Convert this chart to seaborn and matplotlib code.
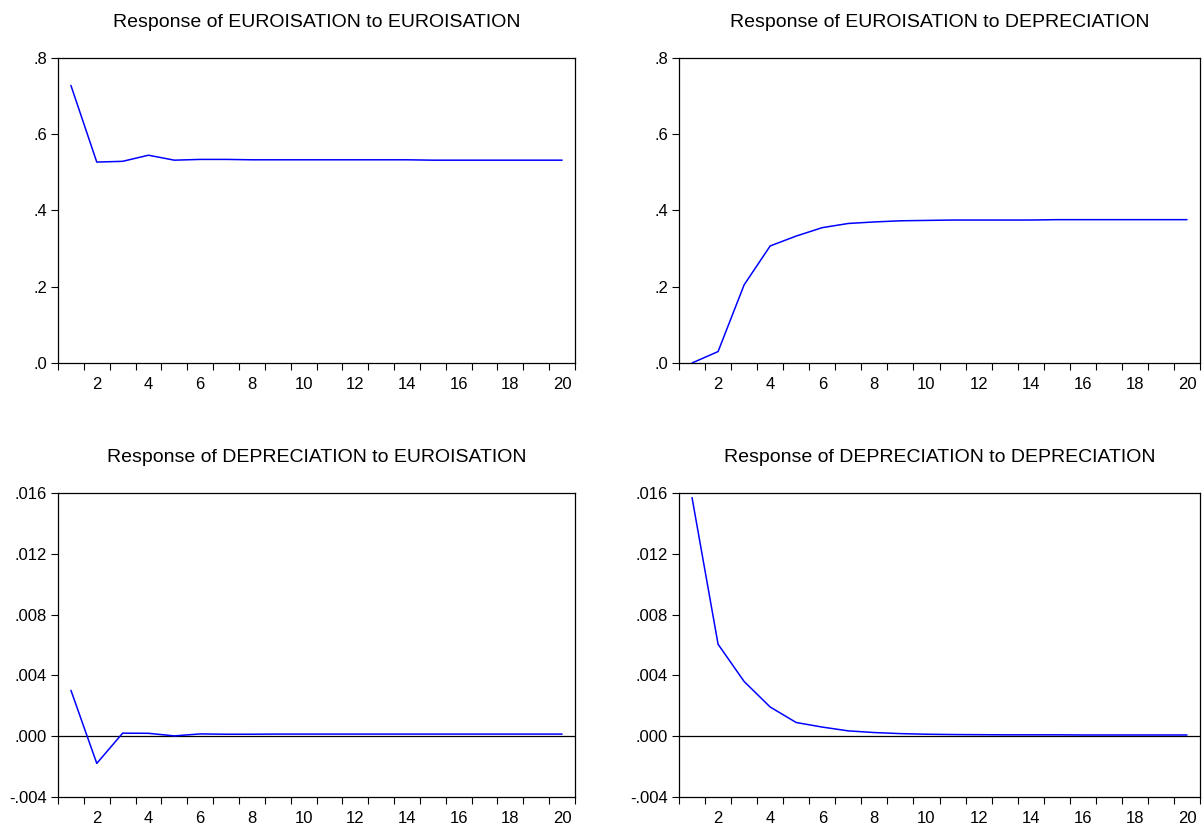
"""Impulse responses of EUROISATION and DEPRECIATION (EViews-style 2x2 panel)."""

import matplotlib.pyplot as plt
import matplotlib.ticker as mticker
import pandas as pd
import seaborn as sns

PERIODS = list(range(1, 21))

EURO_TO_EURO = [0.728, 0.527, 0.529, 0.545, 0.532, 0.534, 0.534, 0.533, 0.533, 0.533,
                0.533, 0.533, 0.533, 0.533, 0.532, 0.532, 0.532, 0.532, 0.532, 0.532]
EURO_TO_DEPR = [0.000, 0.030, 0.205, 0.307, 0.333, 0.355, 0.366, 0.370, 0.373, 0.374,
                0.375, 0.375, 0.375, 0.375, 0.376, 0.376, 0.376, 0.376, 0.376, 0.376]
DEPR_TO_EURO = [0.00302, -0.00179, 0.00020, 0.00019, 0.00002, 0.00015, 0.00013, 0.00013,
                0.00014, 0.00014, 0.00014, 0.00014, 0.00014, 0.00014, 0.00014, 0.00014,
                0.00014, 0.00014, 0.00014, 0.00014]
DEPR_TO_DEPR = [0.01570, 0.00605, 0.00360, 0.00192, 0.00090, 0.00060, 0.00035, 0.00024,
                0.00017, 0.00013, 0.00011, 0.00010, 0.00009, 0.00009, 0.00009, 0.00008,
                0.00008, 0.00008, 0.00008, 0.00008]

TITLES = [
    "Response of EUROISATION to EUROISATION",
    "Response of EUROISATION to DEPRECIATION",
    "Response of DEPRECIATION to EUROISATION",
    "Response of DEPRECIATION to DEPRECIATION",
]
TOP_YTICKS = [0.0, 0.2, 0.4, 0.6, 0.8]
TOP_YLABELS = [".0", ".2", ".4", ".6", ".8"]
BOTTOM_YTICKS = [-0.004, 0.000, 0.004, 0.008, 0.012, 0.016]
BOTTOM_YLABELS = ["-.004", ".000", ".004", ".008", ".012", ".016"]
XTICKS = [2, 4, 6, 8, 10, 12, 14, 16, 18, 20]

sns.set_theme(style="ticks")
plt.rcParams["font.family"] = ["Liberation Sans", "DejaVu Sans"]
plt.rcParams["text.color"] = "black"
plt.rcParams["xtick.color"] = "black"
plt.rcParams["ytick.color"] = "black"

fig = plt.figure(figsize=(12.03, 8.25), dpi=100)
positions = [
    (58 / 1203, 1 - 363 / 825, 517 / 1203, 305 / 825),
    (679 / 1203, 1 - 363 / 825, 521 / 1203, 305 / 825),
    (58 / 1203, 1 - 797 / 825, 517 / 1203, 304 / 825),
    (679 / 1203, 1 - 797 / 825, 521 / 1203, 304 / 825),
]
series = [EURO_TO_EURO, EURO_TO_DEPR, DEPR_TO_EURO, DEPR_TO_DEPR]

for i, (pos, values, title) in enumerate(zip(positions, series, TITLES)):
    ax = fig.add_axes(pos)
    df = pd.DataFrame({"period": PERIODS, "response": values})
    top = i < 2
    if not top:
        ax.axhline(0, color="black", linewidth=0.9, zorder=1)
    sns.lineplot(data=df, x="period", y="response", ax=ax, color="#0000ff",
                 linewidth=1.1, zorder=2)

    ax.set_xlim(0.5, 20.5)
    ax.set_xticks(XTICKS)
    ax.set_xticklabels([str(t) for t in XTICKS])
    ax.xaxis.set_minor_locator(mticker.FixedLocator([p + 0.5 for p in range(0, 21)]))
    ax.tick_params(axis="x", which="major", length=0, pad=10, labelsize=12)
    ax.tick_params(axis="x", which="minor", length=5, width=0.8, direction="out")

    if top:
        ax.set_ylim(0, 0.8)
        ax.set_yticks(TOP_YTICKS)
        ax.set_yticklabels(TOP_YLABELS)
    else:
        ax.set_ylim(-0.004, 0.016)
        ax.set_yticks(BOTTOM_YTICKS)
        ax.set_yticklabels(BOTTOM_YLABELS)
    ax.tick_params(axis="y", which="major", length=5, width=0.8, direction="out",
                   pad=3, labelsize=12)

    for spine in ax.spines.values():
        spine.set_visible(True)
        spine.set_color("black")
        spine.set_linewidth(0.9)

    ax.set_xlabel("")
    ax.set_ylabel("")
    ax.set_title(title, fontsize=14, pad=22)
    ax.grid(False)

fig.savefig("out.png", dpi=100)
